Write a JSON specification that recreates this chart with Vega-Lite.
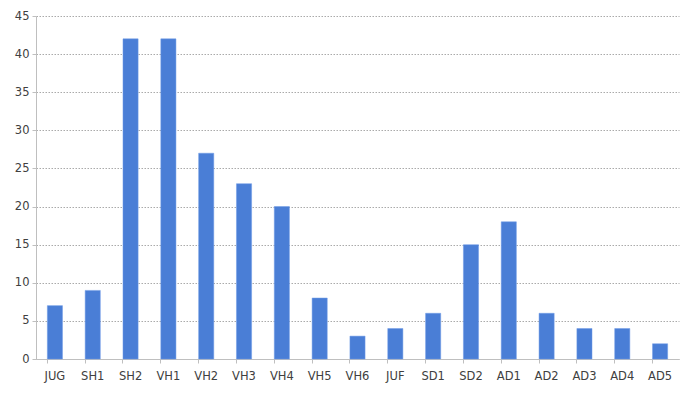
{
  "$schema": "https://vega.github.io/schema/vega-lite/v6.json",
  "width": 643,
  "height": 343,
  "autosize": "none",
  "padding": {"left": 36, "top": 16, "right": 17, "bottom": 35},
  "background": "white",
  "data": {
    "values": [
      {"cat": "JUG", "v": 7},
      {"cat": "SH1", "v": 9},
      {"cat": "SH2", "v": 42},
      {"cat": "VH1", "v": 42},
      {"cat": "VH2", "v": 27},
      {"cat": "VH3", "v": 23},
      {"cat": "VH4", "v": 20},
      {"cat": "VH5", "v": 8},
      {"cat": "VH6", "v": 3},
      {"cat": "JUF", "v": 4},
      {"cat": "SD1", "v": 6},
      {"cat": "SD2", "v": 15},
      {"cat": "AD1", "v": 18},
      {"cat": "AD2", "v": 6},
      {"cat": "AD3", "v": 4},
      {"cat": "AD4", "v": 4},
      {"cat": "AD5", "v": 2}
    ]
  },
  "mark": {"type": "bar", "color": "#4a7ed6", "stroke": "#6f9be6", "strokeWidth": 0.5},
  "encoding": {
    "x": {
      "field": "cat",
      "type": "nominal",
      "sort": null,
      "scale": {"paddingInner": 0.6, "paddingOuter": 0.3},
      "axis": {
        "title": null,
        "labelAngle": 0,
        "bandPosition": 0,
        "tickSize": 4,
        "tickColor": "#bfbfbf",
        "domainColor": "#bfbfbf",
        "labelPadding": 7,
        "labelFont": "DejaVu Sans",
        "labelFontSize": 11.5,
        "labelColor": "#404040",
        "grid": false
      }
    },
    "y": {
      "field": "v",
      "type": "quantitative",
      "scale": {"domain": [0, 45], "nice": false},
      "axis": {
        "title": null,
        "values": [0, 5, 10, 15, 20, 25, 30, 35, 40, 45],
        "tickSize": 4,
        "tickColor": "#bfbfbf",
        "domainColor": "#bfbfbf",
        "labelPadding": 3,
        "labelFont": "DejaVu Sans",
        "labelFontSize": 11.5,
        "labelColor": "#404040",
        "grid": true,
        "gridColor": "#aaaaaa",
        "gridDash": [1.5, 1.5]
      }
    }
  },
  "config": {"view": {"stroke": null}}
}
